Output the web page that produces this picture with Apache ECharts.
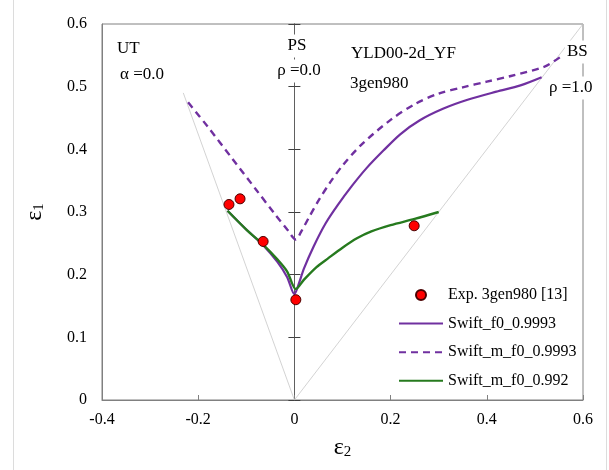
<!DOCTYPE html>
<html><head><meta charset="utf-8">
<script src="https://cdn.jsdelivr.net/npm/echarts@6/dist/echarts.min.js"></script>
<style>html,body{margin:0;padding:0;background:#fff}#c{width:609px;height:470px}</style>
</head><body><div id="c"></div>
<script>
// ---- data ----
const xTickLabels = ['-0.4', '-0.2', '0', '0.2', '0.4', '0.6'];
const yTickLabels = ['0', '0.1', '0.2', '0.3', '0.4', '0.5', '0.6'];

const expX = [-0.136, -0.113, -0.065, 0.003, 0.249];
const expY = [0.312, 0.321, 0.253, 0.160, 0.278];

const swiftF0X = [-0.139, -0.10, -0.065, -0.035, -0.015, 0.0, 0.008, 0.02, 0.04, 0.065, 0.09, 0.12, 0.15, 0.185, 0.22, 0.26, 0.31, 0.36, 0.42, 0.47, 0.514];
const swiftF0Y = [0.302, 0.272, 0.247, 0.220, 0.196, 0.169, 0.183, 0.210, 0.245, 0.282, 0.311, 0.342, 0.370, 0.398, 0.424, 0.446, 0.465, 0.479, 0.492, 0.502, 0.515];

const swiftMF0X = [-0.221, -0.18, -0.13, -0.08, -0.04, -0.015, 0.003, 0.015, 0.03, 0.05, 0.075, 0.10, 0.14, 0.20, 0.25, 0.30, 0.35, 0.40, 0.45, 0.52, 0.554];
const swiftMF0Y = [0.475, 0.436, 0.386, 0.336, 0.296, 0.272, 0.256, 0.270, 0.291, 0.318, 0.348, 0.374, 0.408, 0.447, 0.472, 0.489, 0.499, 0.508, 0.517, 0.532, 0.548];

const swiftM992X = [-0.139, -0.10, -0.065, -0.035, -0.015, 0.003, 0.02, 0.046, 0.07, 0.10, 0.13, 0.16, 0.20, 0.25, 0.30];
const swiftM992Y = [0.302, 0.272, 0.248, 0.224, 0.205, 0.177, 0.192, 0.212, 0.226, 0.243, 0.258, 0.269, 0.279, 0.289, 0.300];

const guideUTX = [0, -0.231];
const guideUTY = [0, 0.49];
const guideBSX = [0, 0.6];
const guideBSY = [0, 0.6];

const seriesNames = ['Exp. 3gen980 [13]', 'Swift_f0_0.9993', 'Swift_m_f0_0.9993', 'Swift_m_f0_0.992'];

// ---- helpers ----
const zip = (xs, ys) => xs.map((x, i) => [x, ys[i]]);
const SERIF = '"Liberation Serif", "Times New Roman", serif';
const PURPLE = '#7030A0';
const GREEN = '#267A1E';
const AXIS = '#808080';

const chart = echarts.init(document.getElementById('c'), null, {renderer: 'canvas'});

const yAxisBase = {type: 'value', min: 0, max: 0.6, interval: 0.1, splitLine: {show: false}};

function annot(text, x, y, align) {
  return {
    type: 'text', z: 100, x: x, y: y,
    style: {
      text: text, font: '17px ' + SERIF, fill: '#000',
      align: align, verticalAlign: 'middle',
      textAlign: align, textVerticalAlign: 'middle',
      backgroundColor: '#fff', padding: [3, 2, 3, 2]
    }
  };
}

const nameRich = {
  e: {fontFamily: SERIF, fontSize: 24, color: '#000'},
  s: {fontFamily: SERIF, fontSize: 15, color: '#000', padding: [8, 0, 0, 0]}
};

chart.setOption({
  animation: false,
  backgroundColor: '#fff',
  grid: {left: 102, right: 26, top: 24, bottom: 70, show: true, borderColor: AXIS, borderWidth: 1, backgroundColor: 'transparent'},
  xAxis: {
    type: 'value', min: -0.4, max: 0.6, interval: 0.2,
    axisLine: {show: true, onZero: false, lineStyle: {color: AXIS, width: 1}},
    axisTick: {show: true, inside: true, length: 5, lineStyle: {color: AXIS}},
    axisLabel: {margin: 12, fontFamily: SERIF, fontSize: 16, color: '#000',
      formatter: v => xTickLabels[Math.round((v + 0.4) / 0.2)]},
    splitLine: {show: false},
    name: '{e|ε}{s|2}', nameLocation: 'middle', nameGap: 36,
    nameTextStyle: {rich: nameRich}
  },
  yAxis: [
    Object.assign({}, yAxisBase, {
      position: 'left',
      axisLine: {show: true, onZero: false, lineStyle: {color: AXIS, width: 1}},
      axisTick: {show: false},
      axisLabel: {margin: 15, fontFamily: SERIF, fontSize: 16, color: '#000',
        formatter: v => yTickLabels[Math.round(v / 0.1)]},
      name: '{e|ε}{s|1}', nameLocation: 'middle', nameGap: 55,
      nameTextStyle: {rich: nameRich}
    }),
    Object.assign({}, yAxisBase, {
      position: 'left',
      axisLine: {show: true, onZero: true, onZeroAxisIndex: 0, lineStyle: {color: '#606060', width: 1}},
      axisTick: {show: true, inside: true, length: 6, lineStyle: {color: '#404040'}},
      axisLabel: {show: false}
    }),
    Object.assign({}, yAxisBase, {
      position: 'left',
      axisLine: {show: true, onZero: true, onZeroAxisIndex: 0, lineStyle: {color: '#606060', width: 1}},
      axisTick: {show: true, inside: false, length: 6, lineStyle: {color: '#404040'}},
      axisLabel: {show: false}
    })
  ],
  legend: {
    data: [
      {name: seriesNames[0]},
      {name: seriesNames[1], itemStyle: {opacity: 0}},
      {name: seriesNames[2], itemStyle: {opacity: 0}},
      {name: seriesNames[3], itemStyle: {opacity: 0}}
    ],
    orient: 'vertical', left: 398, top: 287, padding: 0,
    itemWidth: 44, itemHeight: 10, itemGap: 12.6,
    textStyle: {fontFamily: SERIF, fontSize: 16, color: '#000', lineHeight: 16},
    selectedMode: false
  },
  series: [
    {name: 'guideUT', type: 'line', data: zip(guideUTX, guideUTY), symbol: 'none', silent: true, z: 1,
      lineStyle: {color: '#c8c8c8', width: 0.8}},
    {name: 'guideBS', type: 'line', data: zip(guideBSX, guideBSY), symbol: 'none', silent: true, z: 1,
      lineStyle: {color: '#c8c8c8', width: 0.8}},
    {name: seriesNames[1], type: 'line', data: zip(swiftF0X, swiftF0Y), symbol: 'none', smooth: 0.3, z: 3,
      itemStyle: {color: PURPLE}, lineStyle: {color: PURPLE, width: 2.2}},
    {name: seriesNames[2], type: 'line', data: zip(swiftMF0X, swiftMF0Y), symbol: 'none', smooth: 0.3, z: 3,
      itemStyle: {color: PURPLE}, lineStyle: {color: PURPLE, width: 2.4, type: [7, 5]}},
    {name: seriesNames[3], type: 'line', data: zip(swiftM992X, swiftM992Y), symbol: 'none', smooth: 0.3, z: 3,
      itemStyle: {color: GREEN}, lineStyle: {color: GREEN, width: 2.4}},
    {name: seriesNames[0], type: 'scatter', data: zip(expX, expY), symbol: 'circle', symbolSize: 10, z: 5,
      itemStyle: {color: '#FF0000', borderColor: '#4a0000', borderWidth: 1, opacity: 1}}
  ],
  graphic: [
    {type: 'line', z: 0, shape: {x1: 13.5, y1: 0, x2: 13.5, y2: 470}, style: {stroke: '#dcdcdc', lineWidth: 1}},
    {type: 'line', z: 0, shape: {x1: 606.5, y1: 0, x2: 606.5, y2: 470}, style: {stroke: '#dcdcdc', lineWidth: 1}},
    annot('UT', 115, 49, 'left'),
    annot('α =0.0', 118, 75, 'left'),
    annot('PS', 297, 46, 'center'),
    annot('ρ =0.0', 299, 71, 'center'),
    annot('YLD00-2d_YF', 349, 54, 'left'),
    annot('3gen980', 348, 84, 'left'),
    annot('BS', 565, 52, 'left'),
    annot('ρ =1.0', 547, 88, 'left')
  ]
});
</script></body></html>
